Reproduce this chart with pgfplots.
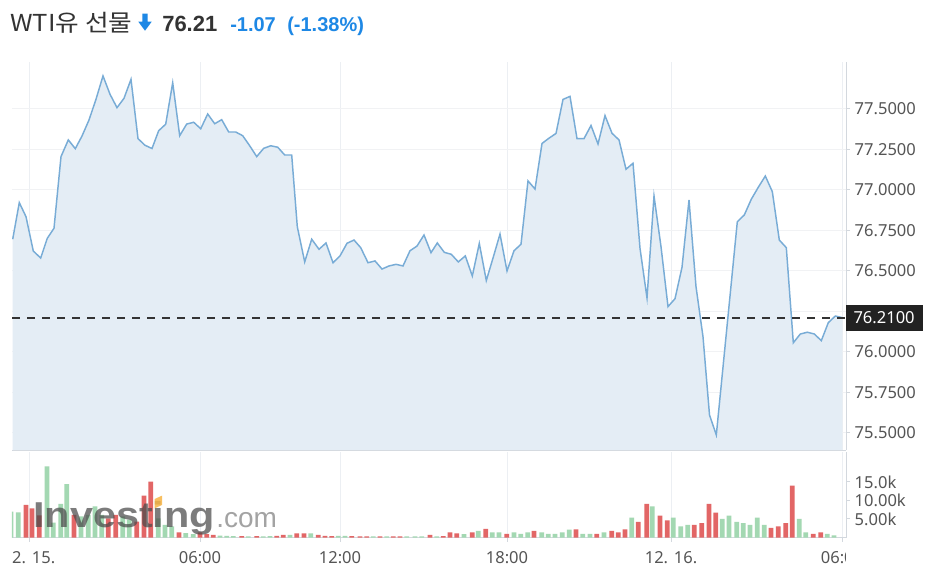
\documentclass[border=0pt]{standalone}
\usepackage{fontspec}
\usepackage{pgfplots}
\usepackage{pgfplotstable}
\pgfplotsset{compat=1.18}
\setmainfont{Noto Sans}
\newfontfamily\krfont{Noto Sans CJK KR}
\newfontfamily\arialfont{Liberation Sans}
\definecolor{linec}{HTML}{78ACD6}
\definecolor{fillc}{HTML}{E4EDF5}
\definecolor{gridc}{HTML}{F1F2F4}
\definecolor{vgridc}{HTML}{ECEFF3}
\definecolor{axisc}{HTML}{D3D8DE}
\definecolor{labc}{HTML}{555555}
\definecolor{volg}{HTML}{A3D8B2}
\definecolor{volr}{HTML}{E26666}
\definecolor{blu}{HTML}{1E88E5}
\definecolor{titc}{HTML}{333333}
\definecolor{boxc}{HTML}{222222}
\definecolor{logoc}{HTML}{4A4A4A}
\definecolor{logoo}{HTML}{F7B445}

\pgfplotstableread{
x y
12.7 76.696
19.3 76.922
26 76.835
33.3 76.623
40.7 76.580
47.3 76.702
54 76.764
61 77.206
68.3 77.309
75.3 77.255
82 77.333
89 77.432
96 77.560
103 77.704
110 77.591
117 77.508
124 77.566
131 77.683
138 77.317
145 77.276
152 77.256
158.7 77.366
165.7 77.406
172.7 77.662
179.7 77.335
186.7 77.407
193.7 77.418
200.7 77.378
207.7 77.469
214.7 77.409
221.7 77.434
228.7 77.358
235.7 77.358
242.7 77.335
249.7 77.273
256.7 77.206
263.7 77.257
270.7 77.273
277.7 77.264
284.7 77.216
291.7 77.216
297.3 76.773
304.7 76.556
311.7 76.696
319 76.634
326 76.673
333 76.551
340 76.593
347 76.671
354 76.691
360.7 76.644
368 76.551
375 76.562
382 76.512
389 76.531
396 76.541
403 76.531
410 76.625
417 76.654
424 76.722
431 76.613
437.3 76.673
444.3 76.615
451.3 76.603
458.3 76.556
465.3 76.593
472.3 76.469
479.3 76.670
486.3 76.441
493.3 76.586
500 76.728
507 76.500
514 76.625
521 76.665
528 77.056
535 77.006
542 77.287
549 77.320
556 77.349
563 77.559
570 77.578
577 77.317
584 77.317
591 77.398
598 77.284
605 77.459
612 77.350
619 77.309
626 77.128
633 77.165
640 76.640
647 76.333
654 76.963
661 76.650
668 76.280
675 76.329
682 76.523
689 76.938
696 76.403
703 76.094
709.5 75.611
716.3 75.488
723.3 75.926
730.3 76.364
737.3 76.804
744.3 76.846
751.3 76.943
758.3 77.017
765.3 77.086
772.3 76.990
779.3 76.691
786.3 76.644
793.3 76.057
800.3 76.111
807.3 76.122
814.3 76.111
821.3 76.070
828.3 76.181
835.3 76.222
842.3 76.212
}\pricedata

\pgfplotstableread{
x v
11 7.0
18.3 6.8
47 19.2
53.3 4.0
60.7 9.1
66.7 14.4
81 5.7
88.3 6.1
95 8.4
101.7 6.1
122.7 5.7
129.3 4.8
158.3 5.2
165 3.4
171.7 3.0
185.7 1.2
193.3 0.9
220 0.5
226.7 0.45
233.3 0.4
248.3 0.3
263.3 0.3
270 0.35
290 0.7
310.7 1.1
338.3 0.45
345 0.45
373.3 0.3
386.7 0.3
406.7 0.3
415 0.3
421.7 0.3
436.7 0.3
464 0.9
478.3 1.8
492.3 1.4
499 1.4
514 1.4
520.7 1.0
527.7 1.4
541.7 1.4
548.3 1.0
555 1.0
562.3 1.4
569.3 2.1
582.7 1.0
590 1.0
604 1.4
631.7 5.4
652.3 8.4
673.3 5.4
680.7 3.0
687.7 3.4
722.3 5.0
729 5.9
736.7 4.2
743.3 3.9
750 3.4
757.3 5.4
764.3 3.4
799.3 5.0
805.7 1.4
827.3 1.0
834 0.6
}\volup

\pgfplotstableread{
x v
26 8.8
32 7.9
39.3 6.0
74 6.1
108.3 5.2
115.7 6.1
136.7 4.3
144 11.3
150.7 15.1
179 1.4
200 1.4
206.7 0.9
213.3 0.7
241.7 0.35
256.7 0.35
276.7 0.45
283.3 0.7
296.7 1.1
304 1.1
318.3 0.7
325 0.45
331.7 0.35
351.7 0.35
360 0.3
366.7 0.3
380 0.3
393.3 0.3
400 0.3
430 0.7
443.3 0.35
450 1.4
456.7 1.1
472.3 1.4
485.7 2.3
506.7 1.0
534 1.8
576 2.2
596.7 1.0
611.7 1.8
618.3 1.4
625 2.2
638.3 4.2
646.7 9.1
660 5.9
667.3 4.6
694.3 3.4
701.7 3.9
709 9.1
715.7 6.7
771 2.6
778.3 3.0
785.7 3.9
792.3 14.0
813.3 1.0
820.7 1.4
}\voldown

\begin{document}
\begin{tikzpicture}
\path[use as bounding box, fill=white] (0,0) rectangle (697.5pt,431.25pt);

% ---- title ----
\node[anchor=base west, inner sep=0, text=titc, xscale=1.1, font=\krfont\fontsize{17.5pt}{19pt}\selectfont] at (7.5pt,407.5pt) {WTI유 선물};
\fill[blu] (106.7pt,421.1pt) -- (110.8pt,421.1pt) -- (110.8pt,415.0pt) -- (113.8pt,415.0pt) -- (108.75pt,408.2pt) -- (103.7pt,415.0pt) -- (106.7pt,415.0pt) -- cycle;
\node[anchor=base west, inner sep=0, text=titc, font=\arialfont\bfseries\fontsize{16.5pt}{18pt}\selectfont] at (121.5pt,407.5pt) {76.21};
\node[anchor=base west, inner sep=0, text=blu, font=\arialfont\bfseries\fontsize{15pt}{18pt}\selectfont] at (172.5pt,407.5pt) {-1.07};
\node[anchor=base west, inner sep=0, text=blu, font=\arialfont\bfseries\fontsize{15pt}{18pt}\selectfont] at (215.25pt,407.5pt) {(-1.38\%)};

% ---- price panel ----
\begin{axis}[
  at={(9pt,93.75pt)}, anchor=south west,
  width=625.5pt, height=291pt, scale only axis,
  xmin=12, xmax=846, ymin=75.395, ymax=77.79,
  axis x line*=bottom, axis y line*=right,
  axis line style={axisc, line width=0.75pt},
  xtick={29,200,340,507,671,842}, xticklabels={},
  xtick style={draw=none},
  xmajorgrids, ymajorgrids,
  x grid style={vgridc, line width=0.75pt},
  y grid style={gridc, line width=0.75pt},
  ytick={75.5,75.75,76,76.25,76.5,76.75,77,77.25,77.5},
  yticklabels={75.5000,75.7500,76.0000,,76.5000,76.7500,77.0000,77.2500,77.5000},
  yticklabel style={font=\fontsize{12.4pt}{14pt}\selectfont, text=labc},
  ytick style={axisc, line width=0.75pt},
  tick align=outside, major tick length=3pt,
]
\addplot[draw=none, fill=fillc] table[x=x,y=y] {\pricedata} \closedcycle;
\addplot[linec, line width=1.1pt] table[x=x,y=y] {\pricedata};
\addplot[black!80, line width=0.9pt, dash pattern=on 6pt off 5.25pt] coordinates {(12,76.21) (846,76.21)};
\coordinate (pp) at (axis cs:846,76.21);
\end{axis}

% ---- volume panel ----
\begin{axis}[
  at={(9pt,28.125pt)}, anchor=south west,
  width=625.5pt, height=64.125pt, scale only axis,
  xmin=12, xmax=846, ymin=0, ymax=23.1,
  axis x line*=bottom, axis y line*=right,
  axis line style={axisc, line width=0.75pt},
  xtick={29,200,340,507,671,842}, xticklabels={,06:00,12:00,18:00,12. 16.,},
  xticklabel style={font=\fontsize{12.4pt}{14pt}\selectfont, text=labc, yshift=-3.75pt},
  xmajorgrids, x grid style={vgridc, line width=0.75pt},
  ytick={5,10,15}, yticklabels={5.00k,10.00k,15.0k},
  yticklabel style={font=\fontsize{12.4pt}{14pt}\selectfont, text=labc},
  tick style={axisc, line width=0.75pt},
  tick align=outside, major tick length=3pt,
]
\addplot[ybar, bar width=3.6pt, bar shift=0pt, fill=volg, draw=none] table[x=x,y=v] {\volup};
\addplot[ybar, bar width=3.6pt, bar shift=0pt, fill=volr, draw=none] table[x=x,y=v] {\voldown};
\end{axis}

% ---- watermark (over the volume bars) ----
\node[anchor=base west, inner sep=0, text=logoc, opacity=0.72, xscale=1.15, font=\arialfont\bfseries\fontsize{27pt}{30pt}\selectfont] at (24.75pt,35.8pt) {Investing};
\fill[logoo, opacity=0.85] (116pt,57pt) -- (121.5pt,59.5pt) -- (121.5pt,52.5pt) -- (116pt,50pt) -- cycle;
\node[anchor=base west, inner sep=0, text=black!45, opacity=0.8, font=\arialfont\fontsize{21pt}{24pt}\selectfont] at (162pt,35.8pt) {.com};

% clipped edge date labels
\begin{scope}
\clip (9pt,0pt) rectangle (633.75pt,27pt);
\node[anchor=base, text=labc, font=\fontsize{12.4pt}{14pt}\selectfont] at (21.75pt,8.8pt) {12. 15.};
\node[anchor=base, text=labc, font=\fontsize{12.4pt}{14pt}\selectfont] at (631.5pt,8.8pt) {06:00};
\end{scope}

% price box
\node[anchor=west, fill=boxc, text=white, minimum width=57.75pt, minimum height=19.5pt, inner sep=0, font=\fontsize{12.4pt}{14pt}\selectfont] at ([xshift=-0.5pt]pp) {76.2100};
\end{tikzpicture}
\end{document}
